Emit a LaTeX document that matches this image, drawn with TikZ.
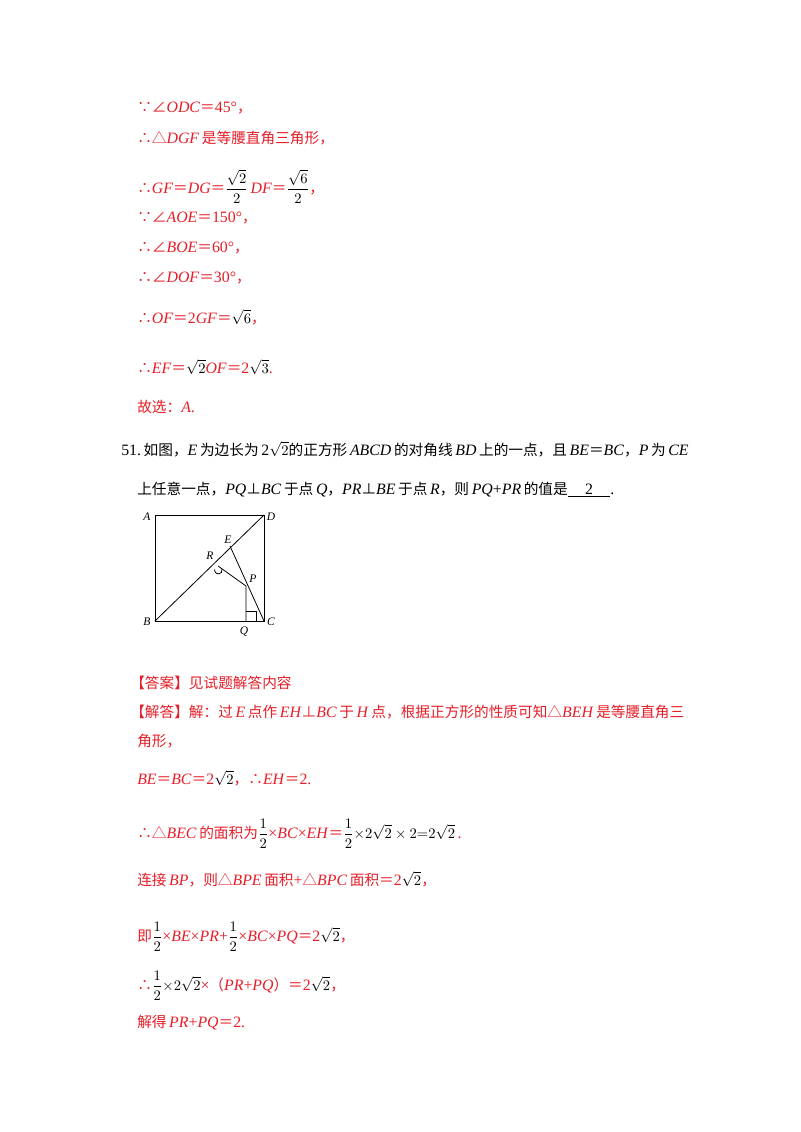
\documentclass[tikz,border=0pt]{standalone}
\usepackage{fontspec}
\usepackage{amsmath}
\usetikzlibrary{calc}
\setmainfont[Scale=1.08]{Liberation Serif}
\newfontfamily\cjk{Noto Sans CJK SC}
\newcommand{\zh}[1]{{\cjk #1}}
\newcommand{\bk}[1]{\textcolor{black}{#1}}
\newcommand{\sq}[1]{\bk{$\sqrt{#1}$}}
\newcommand{\fr}[2]{\bk{$\dfrac{#1}{#2}$}}
\newcommand{\eq}{\zh{＝}}
\newcommand{\cm}{\zh{，}}
\newcommand{\ang}{\zh{∠}}
\newcommand{\tri}{\zh{△}}
\newcommand{\perpz}{\zh{⊥}}
\definecolor{ansred}{RGB}{230,30,40}
\begin{document}
\begin{tikzpicture}[x=0.75pt,y=-0.75pt,
  t/.style={anchor=base west,inner sep=0pt,font=\fontsize{11pt}{12pt}\selectfont},
  r/.style={t,text=ansred},
  fig/.style={line width=0.6pt},
  lab/.style={inner sep=0pt,font=\fontsize{8pt}{9pt}\selectfont\itshape}]
\useasboundingbox[fill=white] (0,0) rectangle (800,1132);
\node[r] (l1) at (137,112) {\zh{∵}\ang\textit{ODC}\eq45°\cm};
\node[r] (l2) at (137,143) {\zh{∴}\tri\textit{DGF}\,\zh{是等腰直角三角形，}};
\node[r] (l3) at (137,193) {\zh{∴}\textit{GF}\eq\textit{DG}\eq\fr{\sqrt2}{2}\,\textit{DF}\eq\fr{\sqrt6}{2}\cm};
\node[r] (l4) at (137,222) {\zh{∵}\ang\textit{AOE}\eq150°\cm};
\node[r] (l5) at (137,252) {\zh{∴}\ang\textit{BOE}\eq60°\cm};
\node[r] (l6) at (137,282) {\zh{∴}\ang\textit{DOF}\eq30°\cm};
\node[r] (l7) at (137,323) {\zh{∴}\textit{OF}\eq2\textit{GF}\eq\sq{6}\cm};
\node[r] (l8) at (137,373) {\zh{∴}\textit{EF}\eq\sq{2}\textit{OF}\eq2\sq{3}.};
\node[r] (l9) at (137,412) {\zh{故选：}\textit{A}.};
\node[t] (q1) at (121,455) {51.\,\zh{如图，}\textit{E}\,\zh{为边长为}\,2\sq{2}\zh{的正方形}\,\textit{ABCD}\,\zh{的对角线}\,\textit{BD}\,\zh{上的一点，且}\,\textit{BE}\eq\textit{BC}\cm\textit{P}\,\zh{为}\,\textit{CE}};
\node[t] (q2) at (137,494) {\zh{上任意一点，}\textit{PQ}\perpz\textit{BC}\,\zh{于点}\,\textit{Q}\cm\textit{PR}\perpz\textit{BE}\,\zh{于点}\,\textit{R}\cm\zh{则}\,\textit{PQ}+\textit{PR}\,\zh{的值是}\underline{\hbox to 32pt{\hfil 2\hfil}}.};
% figure
\coordinate (A) at (155,515); \coordinate (D) at (264,515);
\coordinate (B) at (155,621); \coordinate (C) at (264,621);
\coordinate (E) at (230,546); \coordinate (R) at (218,566);
\coordinate (P) at (246,586); \coordinate (Q) at (246,621);
\draw[fig] (A) -- (D) -- (C) -- (B) -- cycle;
\draw[fig] (B) -- (D);
\draw[fig] (E) -- (C);
\draw[fig] (R) -- (P) -- (Q);
\draw[fig] ($(Q)+(0,-10)$) -- ++(10,0) -- ++(0,10);
\draw[fig] ($(R)+(-3.5,3.5)$) .. controls ($(R)+(-3,10)$) and ($(R)+(5,9)$) .. ($(R)+(4.1,2.9)$);
\node[lab] (la) at (147,517) {A};
\node[lab] (ld) at (271,517) {D};
\node[lab] (lb) at (147,622) {B};
\node[lab] (lc) at (271,622) {C};
\node[lab] (le) at (228,540) {E};
\node[lab] (lr) at (210,556) {R};
\node[lab] (lp) at (253,579) {P};
\node[lab] (lq) at (244,632) {Q};
% answer
\node[r] (a1) at (130,688) {\zh{【答案】见试题解答内容}};
\node[r] (a2) at (130,717) {\zh{【解答】解：过}\,\textit{E}\,\zh{点作}\,\textit{EH}\perpz\textit{BC}\,\zh{于}\,\textit{H}\,\zh{点，根据正方形的性质可知}\tri\textit{BEH}\,\zh{是等腰直角三}};
\node[r] (a3) at (137,746) {\zh{角形，}};
\node[r] (a4) at (137,784) {\textit{BE}\eq\textit{BC}\eq2\sq{2}\cm\zh{∴}\textit{EH}\eq2.};
\node[r] (a5) at (137,838) {\zh{∴}\tri\textit{BEC}\,\zh{的面积为}\fr12\texttimes\textit{BC}\texttimes\textit{EH}\eq\fr12\bk{$\times2\sqrt2\times2{=}2\sqrt2$}\,.};
\node[r] (a6) at (137,885) {\zh{连接}\,\textit{BP}\cm\zh{则}\tri\textit{BPE}\,\zh{面积}+\tri\textit{BPC}\,\zh{面积}\eq2\sq{2}\cm};
\node[r] (a7) at (137,941) {\zh{即}\fr12\texttimes\textit{BE}\texttimes\textit{PR}+\fr12\texttimes\textit{BC}\texttimes\textit{PQ}\eq2\sq{2}\cm};
\node[r] (a8) at (137,990) {\zh{∴}\fr12\bk{$\times2\sqrt2$}\texttimes\zh{（}\textit{PR}+\textit{PQ}\zh{）}\eq2\sq{2}\cm};
\node[r] (a9) at (137,1027) {\zh{解得}\,\textit{PR}+\textit{PQ}\eq2.};
\end{tikzpicture}
\end{document}
